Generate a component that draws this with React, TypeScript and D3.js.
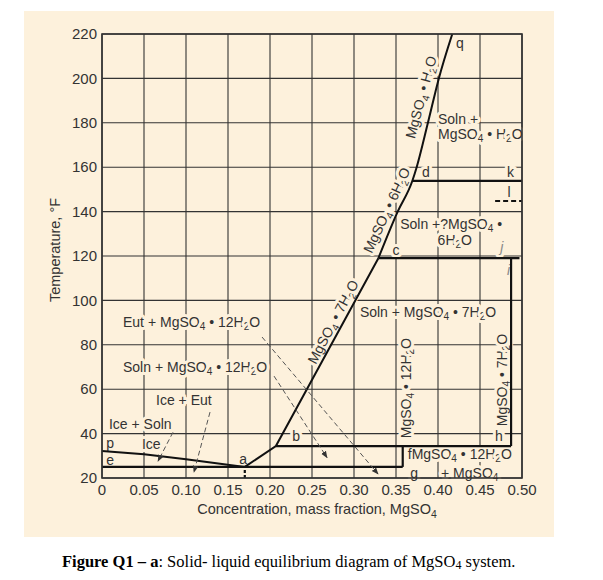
import React from "react";
import * as d3 from "d3";

// ---- Data ----
const xTickValues = [0, 0.05, 0.1, 0.15, 0.2, 0.25, 0.3, 0.35, 0.4, 0.45, 0.5];
const xTickLabels = ["0", "0.05", "0.10", "0.15", "0.20", "0.25", "0.30", "0.35", "0.40", "0.45", "0.50"];
const yTickValues = [20, 40, 60, 80, 100, 120, 140, 160, 180, 200, 220];

// ice freezing line p -> a
const iceCurve: [number, number][] = [[0, 32.2], [0.05, 30.7], [0.1, 28.4], [0.17, 25]];
// a -> b -> c (solubility of 12H2O and 7H2O)
const lowerSolubility: [number, number][] = [[0.17, 25], [0.207, 34.4], [0.329, 119]];
// c -> d -> q
const upperSolubility: [number, number][] = [[0.329, 119], [0.352, 140], [0.3694, 153.8], [0.3746, 160], [0.388, 180], [0.401, 200], [0.417, 220]];

// straight phase boundaries: [c1, T1, c2, T2]
const boundaries: [number, number, number, number][] = [
  [0, 25, 0.358, 25],        // e - g eutectic
  [0.207, 34.4, 0.487, 34.4], // b - h
  [0.358, 25, 0.358, 34.4],  // g - f
  [0.487, 34.4, 0.487, 119], // h - i
  [0.329, 119, 0.497, 119],  // c - j
  [0.3694, 153.8, 0.5, 153.8], // d - k
];
const dashedBoundaries: [number, number, number, number][] = [
  [0.468, 144.8, 0.5, 144.8], // l
];
const eutecticDrop: [number, number, number, number] = [0.17, 20, 0.17, 25];

// arrows: [fromC, fromT, toC, toT]
const arrows: [number, number, number, number][] = [
  [0.1905, 83.5, 0.3286, 21.8],
  [0.2048, 65.9, 0.2679, 29.2],
  [0.1286, 49.7, 0.1095, 22.7],
  [0.0845, 40.6, 0.0667, 27.6],
];

type Lab = { t: string; c: number; T: number; anchor?: string; rot?: number; italic?: boolean; light?: boolean };
const labels: Lab[] = [
  { t: "q", c: 0.4214, T: 216 },
  { t: "Soln +", c: 0.4, T: 181.7 },
  { t: "MgSO_4 • H_2O", c: 0.4, T: 175 },
  { t: "d", c: 0.381, T: 157.8 },
  { t: "k", c: 0.482, T: 157.8 },
  { t: "l", c: 0.4845, T: 148.8, anchor: "middle" },
  { t: "Soln +?MgSO_4 •", c: 0.355, T: 134.4 },
  { t: "6H_2O", c: 0.42, T: 127.2, anchor: "middle" },
  { t: "j", c: 0.476, T: 124, anchor: "middle", italic: true, light: true },
  { t: "c", c: 0.35, T: 122.7, anchor: "middle" },
  { t: "i", c: 0.484, T: 113.7, anchor: "middle", italic: true, light: true },
  { t: "Soln + MgSO_4 • 7H_2O", c: 0.307, T: 94.8 },
  { t: "Eut + MgSO_4 • 12H_2O", c: 0.025, T: 90.3 },
  { t: "Soln + MgSO_4 • 12H_2O", c: 0.025, T: 70 },
  { t: "Ice + Eut", c: 0.0643, T: 55.1 },
  { t: "Ice + Soln", c: 0.0083, T: 44.3 },
  { t: "Ice", c: 0.0476, T: 35.3 },
  { t: "p", c: 0.005, T: 35.8 },
  { t: "e", c: 0.005, T: 28.1 },
  { t: "a", c: 0.168, T: 28.6, anchor: "middle" },
  { t: "b", c: 0.231, T: 38.9, anchor: "middle" },
  { t: "h", c: 0.4726, T: 38.9, anchor: "middle" },
  { t: "fMgSO_4 • 12H_2O", c: 0.364, T: 30.8 },
  { t: "g", c: 0.367, T: 22.4 },
  { t: "+ MgSO_4", c: 0.4036, T: 22.4 },
  { t: "MgSO_4 • H_2O", c: 0.3798, T: 191.6, anchor: "middle", rot: -75 },
  { t: "MgSO_4 • 6H_2O", c: 0.339, T: 140.7, anchor: "middle", rot: -65 },
  { t: "MgSO_4 • 7H_2O", c: 0.275, T: 90.3, anchor: "middle", rot: -62 },
  { t: "MgSO_4 • 12H_2O", c: 0.362, T: 60.5, anchor: "middle", rot: -90 },
  { t: "MgSO_4 • 7H_2O", c: 0.476, T: 64.1, anchor: "middle", rot: -90 },
];

// ---- Layout ----
const W = 603, H = 580;
const BG = "#fdf1dc";
const INK = "#333";
const FONT = "'Liberation Sans', Arial, Helvetica, sans-serif";
const x = d3.scaleLinear().domain([0, 0.5]).range([102, 522]);
const y = d3.scaleLinear().domain([20, 220]).range([478, 34]);

function chem(text: string, fs: number) {
  const parts = text.split(/_(\d+)/);
  const out: React.ReactNode[] = [];
  parts.forEach((p, i) => {
    if (i % 2 === 1) {
      out.push(<tspan key={i} fontSize={fs * 0.72} dy={fs * 0.25}>{p}</tspan>);
    } else if (i > 0) {
      out.push(<tspan key={i} dy={-fs * 0.25}>{p}</tspan>);
    } else {
      out.push(<tspan key={i}>{p}</tspan>);
    }
  });
  return out;
}

export default function App() {
  const line = d3.line<[number, number]>().x(d => x(d[0])).y(d => y(d[1]));
  const smooth = d3.line<[number, number]>().x(d => x(d[0])).y(d => y(d[1])).curve(d3.curveMonotoneX);
  const LFS = 14;
  return (
    <div style={{ position: "absolute", left: 0, top: 0 }}>
      <svg width={W} height={H} style={{ display: "block" }}>
        <defs>
          <marker id="ah" viewBox="0 0 10 10" refX="9" refY="5" markerWidth="7" markerHeight="7" orient="auto" markerUnits="userSpaceOnUse">
            <path d="M0,1 L10,5 L0,9 z" fill={INK} />
          </marker>
        </defs>
        <rect x={0} y={0} width={W} height={H} fill="#fff" />
        <rect x={24} y={11} width={530} height={526} fill={BG} />

        {/* grid */}
        {xTickValues.map(v => (
          <line key={"gx" + v} x1={x(v)} x2={x(v)} y1={y(20)} y2={y(220)} stroke={INK} strokeWidth={1.1} />
        ))}
        {yTickValues.map(v => (
          <line key={"gy" + v} x1={x(0)} x2={x(0.5)} y1={y(v)} y2={y(v)} stroke={INK} strokeWidth={1.1} />
        ))}

        {/* tick labels */}
        {yTickValues.map(v => (
          <text key={"ty" + v} x={97} y={y(v)} dy="0.35em" textAnchor="end" fontFamily={FONT} fontSize={15} fill={INK}>{v}</text>
        ))}
        {xTickValues.map((v, i) => (
          <text key={"tx" + v} x={x(v)} y={490} dy="0.35em" textAnchor="middle" fontFamily={FONT} fontSize={15} fill={INK}>{xTickLabels[i]}</text>
        ))}
        <text x={317} y={509} dy="0.35em" textAnchor="middle" fontFamily={FONT} fontSize={14.5} fill={INK}>{chem("Concentration, mass fraction, MgSO_4", 14.5)}</text>
        <text transform={`translate(55,250) rotate(-90)`} dy="0.35em" textAnchor="middle" fontFamily={FONT} fontSize={14.5} fill={INK}>Temperature, °F</text>

        {/* labels */}
        {labels.map((l, i) => {
          const px = x(l.c), py = y(l.T);
          return (
            <text key={"l" + i}
              transform={`translate(${px},${py})${l.rot ? ` rotate(${l.rot})` : ""}`}
              dy="0.35em"
              textAnchor={l.anchor || "start"}
              fontFamily={FONT} fontSize={LFS}
              fontStyle={l.italic ? "italic" : "normal"}
              fill={l.light ? "#888" : INK}
              stroke={BG} strokeWidth={6} strokeLinejoin="round"
              style={{ paintOrder: "stroke" }}>
              {chem(l.t, LFS)}
            </text>
          );
        })}

        {/* phase boundaries */}
        <path d={line(iceCurve) || ""} fill="none" stroke="#111" strokeWidth={2} />
        <path d={line(lowerSolubility) || ""} fill="none" stroke="#111" strokeWidth={2} />
        <path d={smooth(upperSolubility) || ""} fill="none" stroke="#111" strokeWidth={2} />
        {boundaries.map((b, i) => (
          <line key={"b" + i} x1={x(b[0])} y1={y(b[1])} x2={x(b[2])} y2={y(b[3])} stroke="#111" strokeWidth={2.2} />
        ))}
        {dashedBoundaries.map((b, i) => (
          <line key={"db" + i} x1={x(b[0])} y1={y(b[1])} x2={x(b[2])} y2={y(b[3])} stroke="#111" strokeWidth={2} strokeDasharray="5,3" />
        ))}
        <line x1={x(eutecticDrop[0])} y1={y(eutecticDrop[1])} x2={x(eutecticDrop[2])} y2={y(eutecticDrop[3])} stroke="#111" strokeWidth={2.2} strokeDasharray="3,2" />

        {/* arrows */}
        {arrows.map((a, i) => (
          <line key={"a" + i} x1={x(a[0])} y1={y(a[1])} x2={x(a[2])} y2={y(a[3])} stroke="#555" strokeWidth={1} strokeDasharray="5,3" markerEnd="url(#ah)" />
        ))}

        {/* frame */}
        <rect x={x(0)} y={y(220)} width={x(0.5) - x(0)} height={y(20) - y(220)} fill="none" stroke={INK} strokeWidth={1.6} />

        {/* caption */}
        <text x={62} y={567} fontFamily="'Liberation Serif', 'Times New Roman', serif" fontSize={16.5} fill="#000">
          <tspan fontWeight="bold">Figure Q1 – a</tspan>
          <tspan>: Solid- liquid equilibrium diagram of MgSO</tspan>
          <tspan fontSize={12} dy={2}>4</tspan>
          <tspan dy={-2}> system.</tspan>
        </text>
      </svg>
    </div>
  );
}
